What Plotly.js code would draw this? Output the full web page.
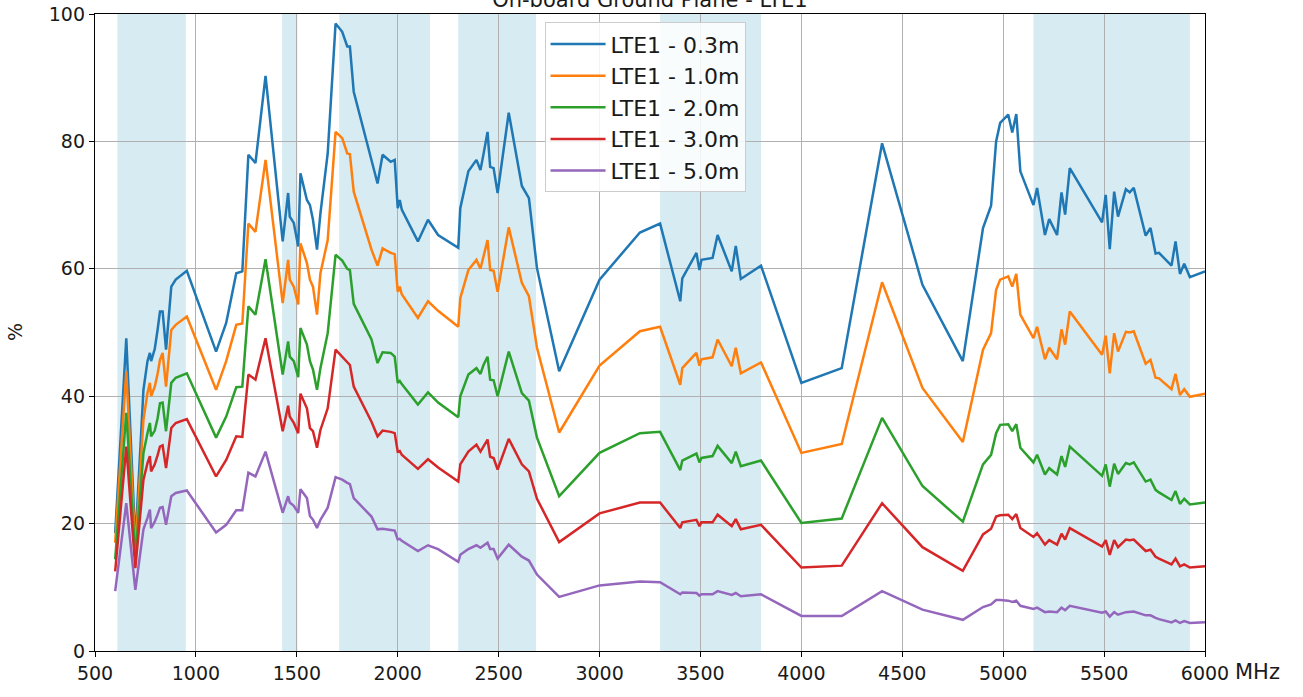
<!DOCTYPE html>
<html>
<head>
<meta charset="utf-8">
<script src="https://cdn.plot.ly/plotly-3.0.1.min.js"></script>
<style>
html,body{margin:0;padding:0;background:#fff;}
#chart{width:1303px;height:697px;}
</style>
</head>
<body>
<div id="chart"></div>
<script>
// Frequencies in MHz
const freq = [600, 655, 700, 740, 760, 772, 778, 796, 810, 822, 835, 852, 878, 900, 955, 1100,
  1150, 1200,
  1230, 1260, 1295, 1345, 1430, 1457, 1465, 1485, 1507, 1518, 1550, 1565, 1580, 1600, 1617, 1653, 1692, 1725, 1750, 1763, 1782,
  1870, 1900, 1925, 1965, 1985, 2000, 2010, 2020, 2100, 2150, 2200,
  2300, 2310, 2350, 2390, 2410, 2425, 2445, 2458, 2475, 2495, 2550, 2615, 2650, 2690, 2800,
  3000, 3200, 3300, 3400, 3410, 3480, 3495, 3505, 3560, 3585, 3655, 3675, 3700, 3800, 4000,
  4200, 4400, 4600, 4800, 4900, 4940, 4965, 4985, 5025, 5045, 5065, 5085, 5150, 5168, 5207, 5228, 5267, 5289, 5307, 5330,
  5490, 5508, 5528, 5550, 5569, 5608, 5627, 5647, 5706, 5730, 5755, 5772, 5834, 5854, 5876, 5897, 5925, 6000];

const lte1_03m = [18.5, 49.1, 17, 41, 45.5, 46.8, 45.5, 47.4, 50.4, 53.3, 53.3, 47.3, 57.2, 58.3, 59.7, 47,
  51.5, 59.3,
  59.6, 77.9, 76.6, 90.3, 64.3, 71.9, 68.2, 67.2, 63.5, 75, 70.8, 70, 67.7, 63, 68.7, 78.1, 98.5, 97.2, 94.9, 94.9, 87.8,
  77, 73.4, 77.9, 76.8, 77.1, 69.5, 70.8, 69.3, 64.3, 67.7, 65.3,
  63.3, 69.5, 75.3, 77.1, 75.5, 78, 81.5, 76, 75.8, 71.9, 84.5, 73, 71.1, 60.1, 43.9,
  58.3, 65.7, 67.1, 54.9, 58.5, 62.5, 59.8, 61.4, 61.7, 65.3, 59.6, 63.6, 58.4, 60.5, 42.1,
  44.4, 79.7, 57.5, 45.5, 66.4, 69.9, 80, 82.9, 84.2, 81.4, 84.3, 75.3, 70, 72.7, 65.3, 67.8, 65.3, 72, 68.5, 75.8,
  67.3, 71.6, 63.1, 72.1, 68.2, 72.5, 72, 72.7, 65.2, 66.4, 62.4, 62.5, 60.5, 64.3, 59.2, 60.8, 58.7, 59.6];

const lte1_10m = [17, 43.9, 15.9, 36.3, 40.5, 42.1, 40, 41.5, 43.5, 45.7, 46.8, 41.5, 50.4, 51.2, 52.5, 41,
  45.5, 51.2,
  51.4, 67.1, 65.8, 77.1, 54.6, 61.4, 58.3, 57.2, 54.4, 64, 60.9, 58.3, 57.2, 52.8, 59.3, 64.5, 81.5, 80.5, 78.1, 78, 72.1,
  63, 60.5, 63.2, 62.5, 62.3, 56.4, 57.2, 56, 52.3, 54.9, 53.4,
  50.9, 55.4, 59.8, 61.4, 60, 61.9, 64.5, 59.8, 59.7, 56.4, 66.5, 57.8, 55.7, 47.6, 34.3,
  44.8, 50.2, 50.9, 41.8, 44.4, 46.8, 44.8, 45.8, 46.1, 48.9, 44.7, 47.6, 43.6, 45.3, 31.1,
  32.5, 57.9, 41.3, 32.8, 47.3, 49.9, 56.7, 58.3, 58.8, 57.2, 59.2, 52.8, 49.1, 50.9, 45.8, 47.6, 45.8, 50.5, 48.1, 53.3,
  46.5, 49.5, 43.6, 49.9, 47, 50.1, 50, 50.2, 45.1, 45.7, 42.9, 42.8, 41.1, 43.5, 40.2, 41.1, 39.9, 40.4];

const lte1_20m = [14.4, 37.4, 14.5, 31.1, 34.2, 35.8, 33.7, 34.6, 36.5, 38.9, 39, 34.5, 42.1, 42.9, 43.6, 33.5,
  36.8, 41.4,
  41.5, 54.1, 52.8, 61.5, 43.4, 48.6, 46.2, 45.5, 43, 50.7, 48.1, 45.5, 44.2, 41, 44.4, 49.9, 62.2, 61.3, 60, 59.8, 54.5,
  48.9, 45.2, 46.9, 46.8, 46.2, 42.1, 42.4, 41.9, 38.7, 40.6, 39,
  36.7, 40, 43.4, 44.4, 43.5, 44.9, 46.2, 42.6, 42.5, 40, 47, 40.5, 39.3, 33.5, 24.3,
  31.1, 34.2, 34.4, 28.4, 29.9, 31, 29.6, 30.3, 30.6, 32.2, 29.5, 31.3, 29, 29.9, 20.1,
  20.8, 36.6, 25.9, 20.3, 29.3, 30.8, 34.2, 35.5, 35.6, 34.5, 35.6, 31.9, 29.6, 30.8, 27.7, 28.7, 27.7, 30.6, 28.9, 32.1,
  27.5, 29.3, 25.8, 29.4, 27.8, 29.5, 29.3, 29.6, 26.6, 26.9, 25.3, 24.9, 23.7, 25.1, 23.1, 23.9, 23, 23.3];

const lte1_30m = [12.5, 32.1, 13, 26.9, 29.5, 30.6, 28.2, 29.3, 30.7, 32.1, 32.3, 28.7, 35, 35.8, 36.4, 27.4,
  30, 33.7,
  33.6, 43.4, 42.6, 49.1, 34.5, 38.5, 36.8, 35.8, 34.2, 40.4, 38.1, 35, 34.5, 31.9, 34.7, 38.1, 47.3, 46.2, 45.2, 44.9, 41.5,
  36, 33.7, 34.6, 34.4, 34.2, 31.3, 31.4, 30.8, 28.6, 30.1, 28.8,
  26.6, 29.3, 31.3, 32.4, 31.3, 32.1, 33.2, 30.5, 30.3, 28.5, 33.3, 29.3, 28.2, 23.9, 17.1,
  21.6, 23.3, 23.3, 19.3, 20.2, 20.6, 19.6, 20.2, 20.2, 21.4, 19.6, 20.7, 19.1, 19.8, 13.1,
  13.4, 23.2, 16.3, 12.6, 18.3, 19.2, 21.1, 21.3, 21.4, 20.7, 21.5, 19.3, 17.9, 18.5, 16.7, 17.4, 16.7, 18.4, 17.5, 19.3,
  16.4, 17.4, 15.1, 17.4, 16.3, 17.5, 17.4, 17.5, 15.7, 15.9, 14.8, 14.5, 13.6, 14.5, 13.3, 13.6, 13.1, 13.3];

const lte1_50m = [9.4, 23.2, 9.6, 19.1, 20.9, 22.2, 19.3, 20.3, 21.4, 22.5, 22.6, 19.8, 24.3, 24.8, 25.2, 18.6,
  19.8, 22.1,
  22.1, 28, 27.4, 31.3, 21.7, 24.3, 23.3, 22.8, 21.7, 25.4, 24, 21.2, 20.6, 19.3, 20.6, 22.5, 27.3, 26.9, 26.4, 26.2, 24,
  21.1, 19.1, 19.2, 19, 18.9, 17.5, 17.6, 17.3, 15.7, 16.6, 16,
  14, 15.1, 16, 16.6, 16.2, 16.6, 17, 16, 16, 14.5, 16.7, 14.8, 14.2, 12, 8.5,
  10.3, 10.9, 10.8, 8.9, 9.2, 9.1, 8.7, 8.9, 8.9, 9.4, 8.8, 9.1, 8.6, 8.9, 5.5,
  5.5, 9.4, 6.5, 4.9, 6.9, 7.3, 8, 8, 7.9, 7.7, 7.9, 7.1, 6.6, 6.8, 6.1, 6.2, 6.1, 6.8, 6.4, 7.1,
  6, 6.2, 5.4, 6.1, 5.7, 6.1, 6.1, 6.2, 5.6, 5.6, 5.2, 5.0, 4.5, 4.8, 4.4, 4.7, 4.4, 4.5];

const seriesNames = ["LTE1 - 0.3m", "LTE1 - 1.0m", "LTE1 - 2.0m", "LTE1 - 3.0m", "LTE1 - 5.0m"];
const seriesValues = [lte1_03m, lte1_10m, lte1_20m, lte1_30m, lte1_50m];
const seriesColors = ["#1f77b4", "#ff7f0e", "#2ca02c", "#d62728", "#9467bd"];

// LTE frequency bands shaded (MHz)
const bandStart = [611, 1427, 1710, 2300, 3300, 5150];
const bandEnd   = [950, 1503, 2160, 2685, 3800, 5925];

const xTicks = [500, 1000, 1500, 2000, 2500, 3000, 3500, 4000, 4500, 5000, 5500, 6000];
const yTicks = [0, 20, 40, 60, 80, 100];

const titleText = "On-board Ground Plane - LTE1";

const FONT = "DejaVu Sans, sans-serif";

const traces = seriesValues.map((vals, i) => ({
  type: "scatter",
  mode: "lines",
  x: freq,
  y: vals,
  name: seriesNames[i],
  legendgroup: "g" + i,
  line: {color: seriesColors[i], width: 2.5}
}));

const shapes = bandStart.map((s, i) => ({
  type: "rect", xref: "x", yref: "paper",
  x0: s, x1: bandEnd[i], y0: 0, y1: 1,
  fillcolor: "rgba(173,216,230,0.5)", line: {width: 0}, layer: "below"
}));

const layout = {
  width: 1303, height: 697,
  margin: {l: 95, r: 98, t: 14, b: 46},
  paper_bgcolor: "#fff", plot_bgcolor: "#fff",
  font: {family: FONT, size: 19, color: "#1a1a1a"},
  title: {text: titleText, font: {family: FONT, size: 21, color: "#1a1a1a"},
          x: 0.4988, xanchor: "center", y: 1.0, yanchor: "middle", yref: "container"},
  showlegend: true,
  legend: {x: 0.405, y: 0.987, xanchor: "left", yanchor: "top",
           bgcolor: "rgba(255,255,255,0.85)", bordercolor: "#cccccc", borderwidth: 1,
           font: {family: FONT, size: 22, color: "#1a1a1a"}, tracegroupgap: 0, itemwidth: 55},
  xaxis: {range: [500, 6000], tickvals: xTicks, ticktext: xTicks.map(String),
          showgrid: true, gridcolor: "#b0b0b0", gridwidth: 1,
          showline: true, linecolor: "#000", linewidth: 1.2, mirror: true,
          ticks: "outside", ticklen: 5, tickcolor: "#000", zeroline: false,
          tickfont: {family: FONT, size: 19, color: "#1a1a1a"}},
  yaxis: {range: [0, 100], tickvals: yTicks, ticktext: yTicks.map(String),
          showgrid: true, gridcolor: "#b0b0b0", gridwidth: 1,
          showline: true, linecolor: "#000", linewidth: 1.2, mirror: true,
          ticks: "outside", ticklen: 5, tickcolor: "#000", zeroline: false,
          tickfont: {family: FONT, size: 19, color: "#1a1a1a"}},
  shapes: shapes,
  annotations: [
    {text: "%", xref: "paper", yref: "paper", x: -0.0725, xanchor: "center", y: 0.5, yanchor: "middle",
     showarrow: false, textangle: -90, font: {family: FONT, size: 19, color: "#1a1a1a"}},
    {text: "MHz", xref: "paper", yref: "paper", x: 1.0, xanchor: "left", xshift: 28,
     y: 0, yanchor: "top", yshift: -7, showarrow: false,
     font: {family: FONT, size: 21, color: "#1a1a1a"}}
  ]
};

Plotly.newPlot("chart", traces, layout, {displayModeBar: false, staticPlot: true});
</script>
</body>
</html>
